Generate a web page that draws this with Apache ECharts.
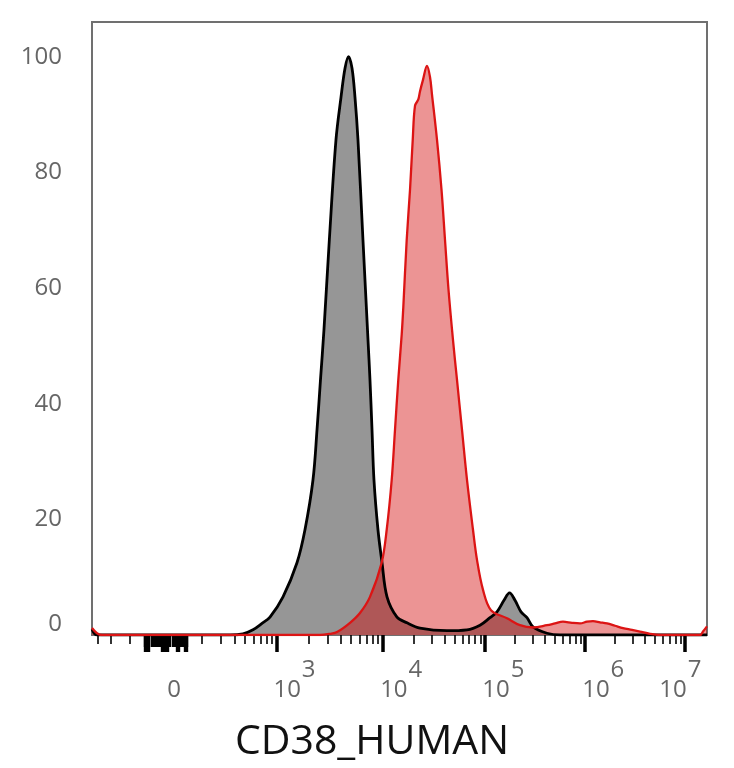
<!DOCTYPE html>
<html>
<head>
<meta charset="utf-8">
<script src="https://cdn.jsdelivr.net/npm/echarts@6/dist/echarts.min.js"></script>
<style>
  html, body { margin: 0; padding: 0; background: #fff; }
  #chart { width: 734px; height: 768px; }
</style>
</head>
<body>
<div id="chart"></div>
<script>
// x values are display channels (0-1000 across the plot), y values are % of max
const grayX = [0, 8.1, 224.4, 245.5, 261.8, 276.4, 289.4, 310.6, 333.3, 346.3, 359.3, 365.9, 371.5, 377.2, 385.9, 396.7, 404.9, 411.4, 417.1, 422.8, 427.6, 432.5, 440.6, 448.8, 452.0, 455.3, 458.5, 465.0, 471.6, 479.7, 495.9, 512.2, 533.3, 577.2, 609.8, 630.9, 647.1, 658.5, 669.9, 678.9, 687.8, 697.6, 707.3, 717.1, 739.8, 761.0, 1000];
const grayY = [1.0, 0, 0, 0.2, 0.9, 2.0, 3.1, 6.6, 12.5, 18.2, 26.8, 35.5, 44.1, 52.8, 68.3, 85.6, 93.0, 98.0, 100, 98.0, 93.0, 85.6, 68.3, 51.0, 44.1, 35.5, 26.8, 18.2, 12.5, 6.6, 3.1, 2.1, 1.2, 0.75, 0.9, 1.7, 3.0, 4.0, 6.0, 7.3, 6.0, 4.0, 3.0, 1.4, 0.3, 0, 0];

const redX = [0, 8.1, 16.3, 370.7, 387.0, 398.4, 419.5, 435.7, 452.0, 471.0, 479.2, 487.3, 492.7, 498.0, 503.6, 506.2, 511.7, 517.1, 521.5, 525.2, 530.6, 533.3, 538.2, 544.7, 549.6, 552.8, 561.0, 568.3, 574.0, 579.7, 587.0, 593.5, 601.6, 609.8, 619.5, 626.0, 635.8, 648.8, 674.8, 695.9, 717.1, 739.8, 752.8, 765.8, 780.5, 793.5, 804.9, 814.6, 826.0, 837.4, 850.4, 863.4, 878.0, 891.0, 907.3, 923.6, 988.6, 993.5, 1000];
const redY = [1.2, 0.3, 0, 0, 0.2, 0.5, 2.1, 3.8, 6.6, 12.5, 18.2, 26.8, 35.5, 44.1, 52.0, 56.7, 68.3, 77.0, 85.6, 91.5, 92.6, 94.0, 96.0, 98.4, 96.5, 93.5, 85.6, 77.0, 68.3, 59.7, 51.0, 44.1, 35.5, 26.8, 18.2, 13.0, 7.8, 4.3, 2.9, 1.7, 1.3, 1.7, 2.0, 2.3, 2.1, 2.0, 2.3, 2.4, 2.2, 2.0, 1.6, 1.2, 0.9, 0.6, 0.2, 0, 0, 0.6, 1.5];

// biexponential axis: channel of 10^2 .. 10^7, and of zero
const decadeCh = [126.8, 300.8, 473.2, 639.0, 801.6, 964.2];
const zeroCh = 120.3;
const linCh = 0.3415;

// tick labels: exponent (null = "0") and where each label starts
const xLabelExp = [null, 3, 4, 5, 6, 7];
const xLabelCh = [122.5, 295.0, 468.5, 634.5, 797.0, 922.5];

function toCh(v) {
  if (Math.abs(v) <= 100) return zeroCh + v * linCh;
  const a = Math.abs(v);
  const e = Math.floor(Math.log10(a) + 1e-9);
  let p;
  if (e >= 7) p = decadeCh[5];
  else p = decadeCh[e - 2] + (Math.log10(a) - e) * (decadeCh[e - 1] - decadeCh[e - 2]);
  return v > 0 ? p : 2 * zeroCh - p;
}

const majorTicks = [1e3, 1e4, 1e5, 1e6, 1e7].map(toCh);
const minorTicks = [-400, -300, -200];
for (let e = 2; e <= 6; e++) {
  for (let m = 2; m <= 9; m++) minorTicks.push(m * Math.pow(10, e));
}
const minorCh = minorTicks.map(toCh);
const clusterCh = [];
for (let v = -100; v <= 100; v += 10) clusterCh.push(toCh(v));
const clusterDeepCh = [-100, -90, -80, -20, -10, 0, 10, 50, 60, 90, 100].map(toCh);

const gray = grayX.map((x, i) => [x, grayY[i]]);
const red = redX.map((x, i) => [x, redY[i]]);

const labelColor = '#666';
const font = '"Open Sans", "Noto Sans", sans-serif';

function tickAxis(values, len, width) {
  return {
    type: 'value', min: 0, max: 1000, position: 'bottom',
    axisLine: { show: false },
    splitLine: { show: false },
    axisLabel: { show: false },
    axisTick: {
      show: true, inside: false, length: len, customValues: values,
      lineStyle: { color: '#000', width: width }
    }
  };
}

const chart = echarts.init(document.getElementById('chart'));
chart.setOption({
  animation: false,
  title: {
    text: 'CD38_HUMAN',
    left: 372, top: 722, textAlign: 'center', padding: 0,
    textStyle: { fontFamily: font, fontSize: 41, fontWeight: 'normal', color: '#111' }
  },
  grid: {
    left: 92, right: 27, top: 22, bottom: 133,
    show: true, borderColor: '#707070', borderWidth: 2, backgroundColor: '#fff'
  },
  xAxis: [
    {
      type: 'value', min: 0, max: 1000, position: 'bottom',
      axisLine: { show: false },
      splitLine: { show: false },
      axisTick: {
        show: true, length: 9, customValues: minorCh,
        lineStyle: { color: '#000', width: 1.6 }
      },
      axisLabel: {
        customValues: xLabelCh,
        align: 'left',
        margin: 23,
        formatter: function (val) {
          let k = 0;
          xLabelCh.forEach((c, i) => { if (Math.abs(c - val) < Math.abs(xLabelCh[k] - val)) k = i; });
          const ex = xLabelExp[k];
          if (ex === null) return '{z|0}{s| }';
          return '{b|10}{s|' + ex + '}';
        },
        rich: {
          b: { fontFamily: font, fontSize: 24, color: labelColor, verticalAlign: 'bottom' },
          z: { fontFamily: font, fontSize: 24, color: labelColor, verticalAlign: 'bottom' },
          s: { fontFamily: font, fontSize: 24, color: labelColor, padding: [0, 0, 20, 1] }
        }
      }
    },
    tickAxis(majorTicks, 17, 3.5),
    tickAxis(clusterCh, 12, 2.4),
    tickAxis(clusterDeepCh, 17, 2.4)
  ],
  yAxis: {
    type: 'value', min: 0, max: 106, interval: 20,
    axisLine: { show: false },
    axisTick: { show: false },
    splitLine: { show: false },
    axisLabel: {
      margin: 30,
      formatter: function (v) {
        if (v === 0) return '{z|0}';
        return v % 20 === 0 ? '{n|' + v + '}' : '';
      },
      rich: {
        n: { fontFamily: font, fontSize: 24, color: labelColor },
        z: { fontFamily: font, fontSize: 24, color: labelColor, padding: [0, 0, 22, 0] }
      }
    }
  },
  series: [
    {
      type: 'line', data: gray, showSymbol: false, smooth: 0.35,
      lineStyle: { color: '#000', width: 2.8 },
      itemStyle: { color: '#000' },
      areaStyle: { color: '#969696', opacity: 1 }
    },
    {
      type: 'line', data: red, showSymbol: false, smooth: 0.35,
      lineStyle: { color: '#dc1414', width: 2.3 },
      itemStyle: { color: '#dc1414' },
      areaStyle: { color: 'rgba(210,0,0,0.42)', opacity: 1 }
    }
  ]
});
</script>
</body>
</html>
